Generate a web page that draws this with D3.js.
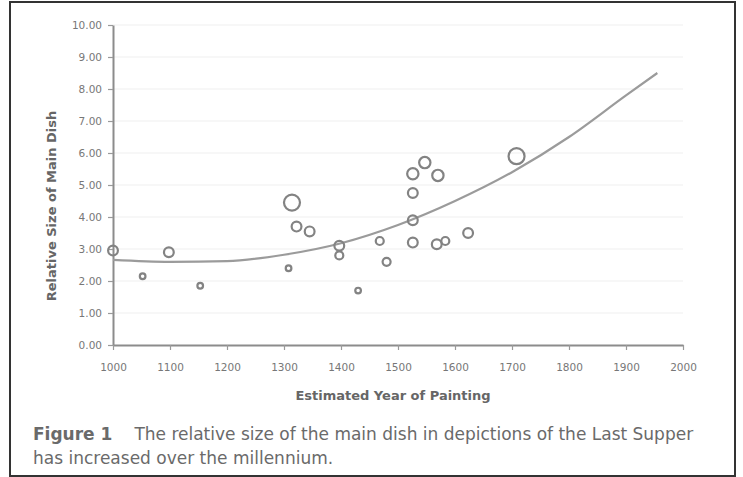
<!DOCTYPE html>
<html>
<head>
<meta charset="utf-8">
<script src="https://cdn.jsdelivr.net/npm/d3@7/dist/d3.min.js"></script>
<style>
  html, body { margin: 0; padding: 0; background: #fff; }
  svg { display: block; font-family: "DejaVu Sans", Verdana, sans-serif; }
</style>
</head>
<body>
<svg id="chart" width="743" height="477"></svg>
<script>
// Estimated year of each painting and the relative size of its main dish
const paintingYears = [1000, 1052, 1098, 1153, 1314, 1308, 1322, 1345, 1397, 1397, 1430,
                       1468, 1480, 1526, 1526, 1526, 1526, 1547, 1570, 1568, 1583, 1623, 1708];
const dishSizes     = [2.95, 2.15, 2.90, 1.85, 4.45, 2.40, 3.70, 3.55, 3.10, 2.80, 1.70,
                       3.25, 2.60, 3.20, 3.90, 4.75, 5.35, 5.70, 5.30, 3.15, 3.25, 3.50, 5.90];
// relative weight of each painting's marker
const markerWeights = [3, 1, 3, 1, 8, 1, 3, 3, 3, 2, 1,
                       2, 2, 3, 3, 3, 4, 4, 4, 3, 2, 3, 8];

// Trend line
const trendYears  = [1000, 1100, 1200, 1300, 1400, 1500, 1600, 1700, 1800, 1900, 1955];
const trendValues = [2.66, 2.60, 2.62, 2.82, 3.18, 3.75, 4.50, 5.40, 6.50, 7.80, 8.50];

// Axis ticks
const yearTicks = [1000, 1100, 1200, 1300, 1400, 1500, 1600, 1700, 1800, 1900, 2000];
const sizeTicks = [0, 1, 2, 3, 4, 5, 6, 7, 8, 9, 10];

const svg = d3.select("#chart");

// frame around the figure
svg.append("rect")
  .attr("x", 10).attr("y", 2).attr("width", 725).attr("height", 474)
  .attr("fill", "#fff").attr("stroke", "#333").attr("stroke-width", 2);

const x = d3.scaleLinear().domain([1000, 2000]).range([113, 683]);
const y = d3.scaleLinear().domain([0, 10]).range([345, 25]);
const r = d3.scaleSqrt().domain([0, 8]).range([0, 8]);

// light horizontal grid
svg.append("g")
  .selectAll("line")
  .data(sizeTicks.slice(1))
  .join("line")
  .attr("x1", x(1000)).attr("x2", x(2000))
  .attr("y1", d => y(d)).attr("y2", d => y(d))
  .attr("stroke", "#efefef").attr("stroke-width", 1);

// axes
const yAxis = svg.append("g")
  .attr("transform", `translate(${x(1000)},0)`)
  .call(d3.axisLeft(y).tickValues(sizeTicks).tickFormat(d3.format(".2f"))
        .tickSize(5).tickSizeOuter(0).tickPadding(6));
const xAxis = svg.append("g")
  .attr("transform", `translate(0,${y(0)})`)
  .call(d3.axisBottom(x).tickValues(yearTicks).tickFormat(d3.format("d"))
        .tickSize(5).tickSizeOuter(0).tickPadding(14));

[yAxis, xAxis].forEach(g => {
  g.select(".domain").attr("stroke", "#8c8c8c").attr("stroke-width", 2);
  g.selectAll(".tick line").attr("stroke", "#9a9a9a").attr("stroke-width", 1.2);
  g.selectAll(".tick text").attr("fill", "#777")
    .style("font-size", "10.5px").style("font-family", "DejaVu Sans, sans-serif");
});

// axis titles
svg.append("text")
  .attr("x", 393).attr("y", 400)
  .attr("text-anchor", "middle")
  .attr("fill", "#666").attr("font-weight", "bold").attr("font-size", 13)
  .text("Estimated Year of Painting");

svg.append("text")
  .attr("transform", "translate(56,206) rotate(-90)")
  .attr("text-anchor", "middle")
  .attr("fill", "#666").attr("font-weight", "bold").attr("font-size", 13)
  .text("Relative Size of Main Dish");

// trend line
const line = d3.line()
  .x(d => x(d[0])).y(d => y(d[1]))
  .curve(d3.curveMonotoneX);
svg.append("path")
  .datum(d3.zip(trendYears, trendValues))
  .attr("d", line)
  .attr("fill", "none").attr("stroke", "#9b9b9b").attr("stroke-width", 2.2);

// paintings
svg.append("g")
  .selectAll("circle")
  .data(d3.zip(paintingYears, dishSizes, markerWeights))
  .join("circle")
  .attr("cx", d => x(d[0])).attr("cy", d => y(d[1]))
  .attr("r", d => r(d[2]))
  .attr("fill", "none").attr("stroke", "#838383").attr("stroke-width", 2.2);

// caption
const cap = svg.append("text")
  .attr("x", 33).attr("y", 440)
  .attr("fill", "#6a6a6a").attr("font-size", 17);
cap.append("tspan").attr("font-weight", "bold").text("Figure 1");
cap.append("tspan").attr("dx", 22)
  .text("The relative size of the main dish in depictions of the Last Supper");
svg.append("text")
  .attr("x", 33).attr("y", 464)
  .attr("fill", "#6a6a6a").attr("font-size", 17)
  .text("has increased over the millennium.");
</script>
</body>
</html>
